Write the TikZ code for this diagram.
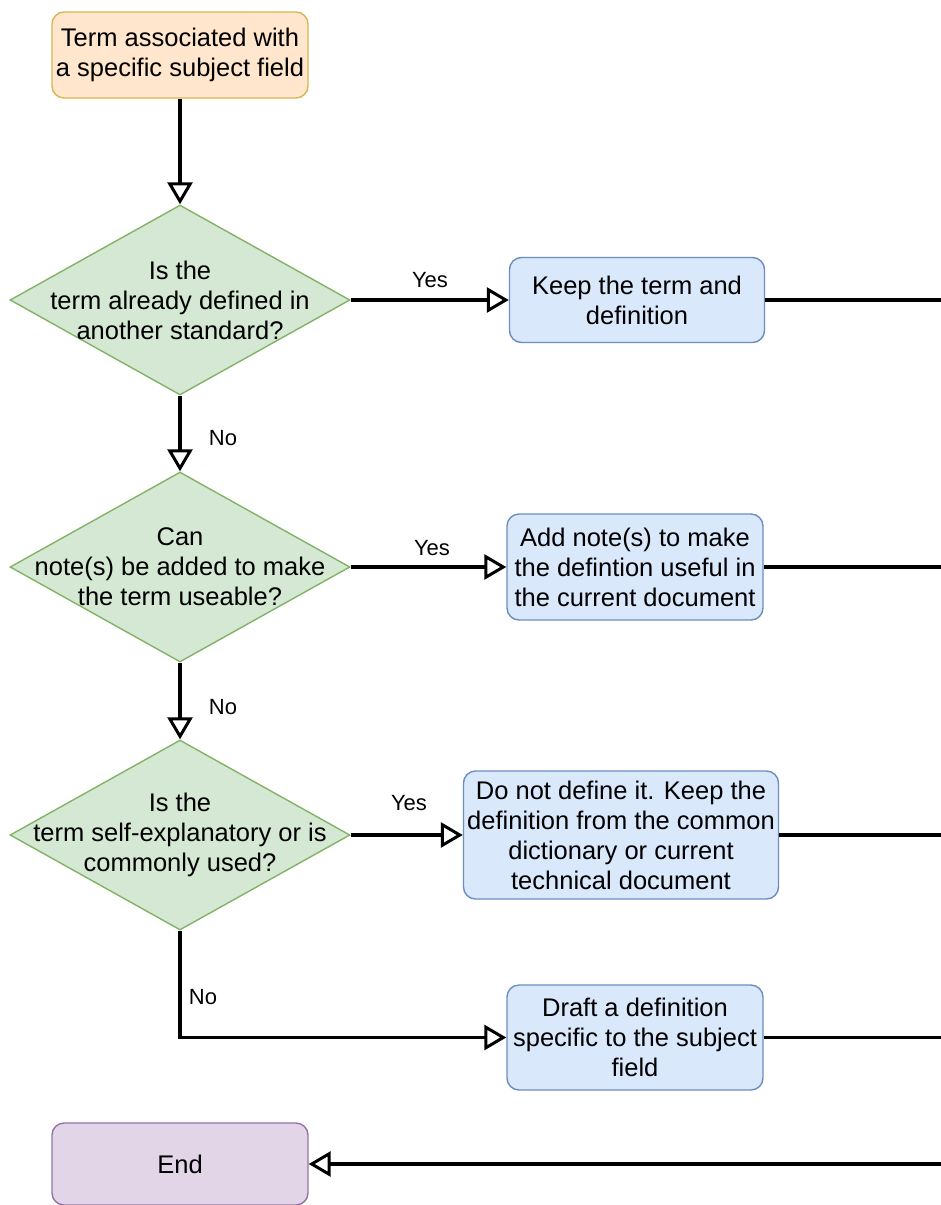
\documentclass[tikz,border=0pt]{standalone}
\usepackage{fontspec}
\setmainfont{Liberation Sans}
\usetikzlibrary{shapes.geometric,arrows.meta}
\definecolor{ofill}{HTML}{FFE6CC}
\definecolor{odraw}{HTML}{D6B656}
\definecolor{gfill}{HTML}{D5E8D4}
\definecolor{gdraw}{HTML}{82B366}
\definecolor{bfill}{HTML}{DAE8FC}
\definecolor{bdraw}{HTML}{6C8EBF}
\definecolor{pfill}{HTML}{E1D5E7}
\definecolor{pdraw}{HTML}{9673A6}
\tikzset{
  box/.style={draw, rounded corners=12pt, line width=1.4pt, align=center, inner sep=0pt,
    font=\fontsize{25.5}{30}\selectfont, text=black},
  startbox/.style={box, fill=ofill, draw=odraw},
  bluebox/.style={box, fill=bfill, draw=bdraw},
  endbox/.style={box, fill=pfill, draw=pdraw},
  dia/.style={diamond, draw=gdraw, fill=gfill, line width=1.4pt, minimum width=340pt,
    minimum height=190pt, inner sep=0pt},
  lbl/.style={align=center, inner sep=0pt, font=\fontsize{25.5}{30}\selectfont, text=black},
  elabel/.style={inner sep=0pt, font=\fontsize{22}{26}\selectfont, text=black},
  conn/.style={line width=3.4pt, -{Triangle[open, length=22pt, width=25pt, line width=3pt]}},
  plainline/.style={line width=3.4pt},
}
\begin{document}
\begin{tikzpicture}[x=1pt,y=-1pt]
\useasboundingbox[fill=white] (0,0) rectangle (941,1205);

\node[startbox, minimum width=256pt, minimum height=86pt] (start) at (180,55)
  {Term associated with\\a specific subject field};

\node[dia, label={[lbl]center:Is the\\term already defined in\\another standard?}] (d1) at (180,300) {};
\node[dia, label={[lbl]center:Can\\note(s) be added to make\\the term useable?}] (d2) at (180,567) {};
\node[dia, label={[lbl]center:Is the\\term self-explanatory or is\\commonly used?}] (d3) at (180,835) {};

\node[bluebox, minimum width=255pt, minimum height=85pt] (keep) at (637,300)
  {Keep the term and\\definition};
\node[bluebox, minimum width=256pt, minimum height=106pt] (add) at (635,567)
  {Add note(s) to make\\the defintion useful in\\the current document};
\node[bluebox, minimum width=315pt, minimum height=128pt] (donot) at (621,835)
  {Do not define it. Keep the\\definition from the common\\dictionary or current\\technical document};
\node[bluebox, minimum width=256pt, minimum height=105pt] (draft) at (635,1037.5)
  {Draft a definition\\specific to the subject\\field};
\node[endbox, minimum width=256pt, minimum height=82pt] (end) at (180,1164) {End};

\coordinate (r1) at (941,300);
\coordinate (r2) at (941,567);
\coordinate (r3) at (941,835);
\coordinate (r4) at (941,1037.5);
\coordinate (r5) at (941,1164);

\draw[conn] (start) -- (d1);
\draw[conn] (d1) -- (keep);
\draw[conn] (d1) -- (d2);
\draw[conn] (d2) -- (add);
\draw[conn] (d2) -- (d3);
\draw[conn] (d3) -- (donot);
\draw[conn] (d3.south) |- (draft.west);
\draw[plainline] (keep) -- (r1);
\draw[plainline] (add) -- (r2);
\draw[plainline] (donot) -- (r3);
\draw[plainline] (draft) -- (r4);
\draw[conn] (r5) -- (end);

\node[elabel] (y1) at (430,280) {Yes};
\node[elabel] (y2) at (432,548) {Yes};
\node[elabel] (y3) at (409,803) {Yes};
\node[elabel] (n1) at (223,438) {No};
\node[elabel] (n2) at (223,707) {No};
\node[elabel] (n3) at (203,997) {No};
\end{tikzpicture}
\end{document}
